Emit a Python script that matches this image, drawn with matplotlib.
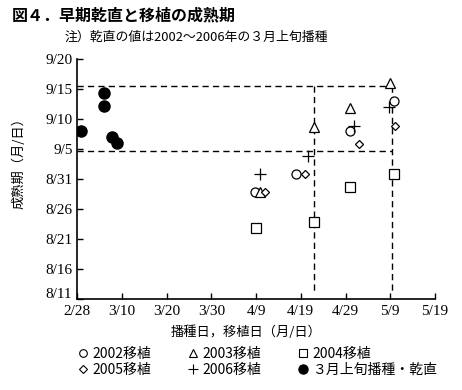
"""Maturity date vs sowing/transplant date (Fig. 4)."""

import matplotlib

matplotlib.use("Agg")
import matplotlib.pyplot as plt
import matplotlib.transforms as mtransforms
from matplotlib.lines import Line2D

JP = ["Noto Sans CJK JP", "DejaVu Sans"]
SERIF = ["Liberation Serif", "DejaVu Serif"]

# x: days after 2/28, y: days after 8/11
x_ticks = [0, 10, 20, 30, 40, 50, 60, 70, 80]
x_labels = ["2/28", "3/10", "3/20", "3/30", "4/9", "4/19", "4/29", "5/9", "5/19"]
y_ticks = [0, 5, 10, 15, 20, 25, 30, 35, 40]
y_labels = ["8/11", "8/16", "8/21", "8/26", "8/31", "9/5", "9/10", "9/15", "9/20"]

tp2002_x = [39.8, 48.9, 61.0, 70.8]
tp2002_y = [17.8, 20.8, 28.0, 33.0]
tp2003_x = [40.9, 53.0, 61.0, 69.9]
tp2003_y = [17.8, 28.7, 31.9, 36.0]
tp2004_x = [40.0, 53.0, 61.0, 70.8]
tp2004_y = [11.8, 12.8, 18.7, 20.8]
tp2005_x = [41.9, 51.0, 63.0, 71.0]
tp2005_y = [17.8, 20.8, 25.9, 28.9]
tp2006_x = [41.0, 51.7, 62.0, 69.8]
tp2006_y = [20.8, 23.9, 28.9, 32.0]
dry_x = [1.0, 6.0, 6.0, 7.9, 9.0]
dry_y = [28.0, 34.3, 32.2, 27.0, 26.0]

# reference lines (dashed)
upper_y = 35.5
lower_y = 24.7
vline_a = 53.0
vline_b = 70.3

fig = plt.figure(figsize=(4.62, 3.9), dpi=100)
ax = fig.add_axes([0.1667, 0.2333, 0.7749, 0.6154])

dash = dict(color="black", lw=1.0, linestyle=(0, (4.5, 3)))
ax.plot([0, vline_b], [upper_y, upper_y], **dash)
ax.plot([0, vline_b], [lower_y, lower_y], **dash)
ax.plot([vline_a, vline_a], [upper_y, 1.2], **dash)
ax.plot([vline_b, vline_b], [upper_y, 1.2], **dash)

op = dict(linestyle="none", mfc="white", mec="black", mew=0.9)
ax.plot(tp2002_x, tp2002_y, marker="o", ms=6.5, **op)
ax.plot(tp2003_x, tp2003_y, marker="^", ms=6.5, **op)
ax.plot(tp2004_x, tp2004_y, marker="s", ms=6.5, **op)
ax.plot(tp2005_x, tp2005_y, marker="D", ms=4.5, **op)
ax.plot(tp2006_x, tp2006_y, marker="+", ms=8, linestyle="none", color="black", mew=0.9)
ax.plot(dry_x, dry_y, marker="o", ms=8, linestyle="none", color="black")

ax.set_xlim(0, 80)
ax.set_ylim(0, 40)
ax.set_xticks(x_ticks)
ax.set_xticklabels(x_labels, family=SERIF, fontsize=11)
ax.set_yticks(y_ticks)
ax.set_yticklabels(y_labels, family=SERIF, fontsize=11)
ax.tick_params(direction="in", length=4, width=1, pad=3)
ax.tick_params(axis="x", pad=4)
ax.spines["top"].set_visible(False)
ax.spines["right"].set_visible(False)
for s in ("left", "bottom"):
    ax.spines[s].set_linewidth(1.2)

# nudge the lowest y label up a little so it clears "2/28"
lab0 = ax.get_yticklabels()[0]
lab0.set_transform(lab0.get_transform()
                   + mtransforms.ScaledTranslation(-1 / 72, 4 / 72, fig.dpi_scale_trans))

fig.text(0.026, 0.96, "図４．早期乾直と移植の成熟期", family=JP, fontsize=11.5,
         fontweight="bold", va="center")
fig.text(0.14, 0.905, "注）乾直の値は2002〜2006年の３月上旬播種", family=JP,
         fontsize=9.3, va="center")
fig.text(0.04, 1 - 160 / 390, "成熟期（月/日）", family=JP, fontsize=9.5,
         rotation=90, ha="center", va="center")
fig.text(246 / 462, 1 - 332 / 390, "播種日，移植日（月/日）", family=JP,
         fontsize=9.5, ha="center", va="center")

op_h = dict(linestyle="none", mfc="white", mec="black", mew=0.8)
handles = [
    Line2D([], [], marker="o", ms=5.5, **op_h),
    Line2D([], [], marker="D", ms=4, **op_h),
    Line2D([], [], marker="^", ms=5.5, **op_h),
    Line2D([], [], marker="+", ms=7, linestyle="none", color="black", mew=0.8),
    Line2D([], [], marker="s", ms=5.5, **op_h),
    Line2D([], [], marker="o", ms=6.5, linestyle="none", color="black"),
]
labels = ["2002移植", "2005移植", "2003移植", "2006移植", "2004移植", "３月上旬播種・乾直"]
fig.legend(handles, labels, ncol=3, frameon=False, loc="center left",
           bbox_to_anchor=(0.155, 1 - 362 / 390), prop={"family": JP, "size": 10},
           handlelength=0.8, handletextpad=0.3, columnspacing=2.6, labelspacing=0.1,
           borderaxespad=0)

fig.savefig("out.png", dpi=100)
